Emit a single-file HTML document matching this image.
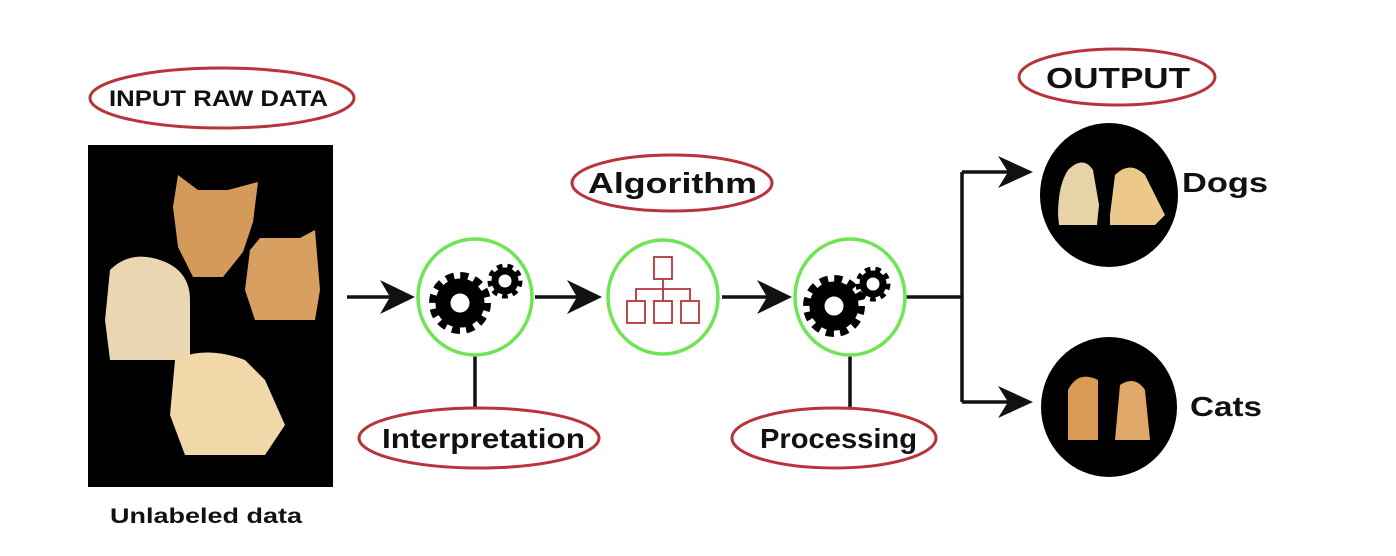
<!DOCTYPE html>
<html><head><meta charset="utf-8"><style>
html,body{margin:0;padding:0;background:#fff;}
svg{display:block}
text{font-family:"Liberation Sans",sans-serif;font-weight:bold;fill:#111}
</style></head><body>
<svg width="1396" height="556" viewBox="0 0 1396 556" xmlns="http://www.w3.org/2000/svg">
<defs>
<g id="gear1">
<circle r="17" fill="none" stroke="#000" stroke-width="15"/>
<circle r="27" fill="none" stroke="#000" stroke-width="8" stroke-dasharray="8 6.14"/>
</g>
<g id="gear2">
<circle r="10" fill="none" stroke="#000" stroke-width="7"/>
<circle r="15" fill="none" stroke="#000" stroke-width="5" stroke-dasharray="5.5 4.92"/>
</g>
</defs>

<ellipse cx="222" cy="98" rx="132" ry="30" fill="none" stroke="#b8343a" stroke-width="3"/>
<text x="109" y="106" font-size="22" textLength="219" lengthAdjust="spacingAndGlyphs">INPUT RAW DATA</text>
<rect x="88" y="145" width="245" height="342" fill="#000"/>
<g fill="#d49a5a">
<path d="M178 175 l20 15 h30 l30 -8 l-5 40 l-10 30 l-20 25 l-30 0 l-15 -30 l-5 -40 z"/>
<path d="M250 250 l10 -12 l40 0 l15 -8 l5 60 l-5 30 h-60 l-10 -30 z" fill="#d8a060"/>
</g>
<path d="M110 270 q20 -20 50 -10 q30 10 30 40 l0 60 h-80 l-5 -40 z" fill="#ead6b0"/>
<path d="M175 360 q30 -15 70 0 l20 20 l20 45 l-20 30 h-80 l-15 -40 z" fill="#f0d8a8"/>
<text x="110" y="523" font-size="21" textLength="192" lengthAdjust="spacingAndGlyphs">Unlabeled data</text>

<g stroke="#111" stroke-width="3.5" fill="none">
<line x1="347" y1="297" x2="400" y2="297"/>
<line x1="535" y1="297" x2="585" y2="297"/>
<line x1="722" y1="297" x2="775" y2="297"/>
<polyline points="906,297 962,297"/>
<line x1="962" y1="172" x2="962" y2="402"/>
<line x1="962" y1="172" x2="1015" y2="172"/>
<line x1="962" y1="402" x2="1015" y2="402"/>
<line x1="475" y1="355" x2="475" y2="407"/>
<line x1="850" y1="355" x2="850" y2="407"/>
</g>
<g fill="#111">
<path d="M380 280 L415 297 L380 314 L390 297 Z"/>
<path d="M567 280 L602 297 L567 314 L577 297 Z"/>
<path d="M757 280 L792 297 L757 314 L767 297 Z"/>
<path d="M998 156 L1033 172 L998 188 L1008 172 Z"/>
<path d="M998 386 L1033 402 L998 418 L1008 402 Z"/>
</g>

<g fill="#fff" stroke="#6fe455" stroke-width="3.5">
<ellipse cx="475" cy="297" rx="57" ry="58"/>
<ellipse cx="663" cy="297" rx="55" ry="57"/>
<ellipse cx="850" cy="297" rx="55" ry="58"/>
</g>
<use href="#gear1" x="460" y="303"/>
<use href="#gear2" x="505" y="281"/>
<use href="#gear1" x="834" y="306"/>
<use href="#gear2" x="873" y="284"/>
<g fill="none" stroke="#b8343a" stroke-width="1.8">
<rect x="654" y="257" width="18" height="22"/>
<rect x="627" y="301" width="18" height="22"/>
<rect x="654" y="301" width="18" height="22"/>
<rect x="681" y="301" width="18" height="22"/>
<polyline points="663,279 663,289"/>
<polyline points="636,301 636,289 690,289 690,301"/>
<line x1="663" y1="289" x2="663" y2="301"/>
</g>

<g fill="none" stroke="#b8343a" stroke-width="3">
<ellipse cx="672" cy="183" rx="100" ry="28"/>
<ellipse cx="479" cy="438" rx="120" ry="30"/>
<ellipse cx="834" cy="438" rx="102" ry="30"/>
<ellipse cx="1117" cy="77" rx="98" ry="28"/>
</g>
<text x="588" y="193" font-size="29" textLength="169" lengthAdjust="spacingAndGlyphs">Algorithm</text>
<text x="382" y="448" font-size="28" textLength="203" lengthAdjust="spacingAndGlyphs">Interpretation</text>
<text x="760" y="448" font-size="28" textLength="157" lengthAdjust="spacingAndGlyphs">Processing</text>
<text x="1046" y="88" font-size="29" textLength="144" lengthAdjust="spacingAndGlyphs">OUTPUT</text>

<ellipse cx="1109" cy="195" rx="69" ry="72" fill="#000"/>
<ellipse cx="1109" cy="407" rx="68" ry="70" fill="#000"/>
<path d="M1058 215 q0 -30 10 -45 q15 -15 25 0 l6 35 l-2 20 h-38 z" fill="#e8d2a8"/>
<path d="M1110 215 l5 -40 q15 -15 30 0 l20 40 l-10 10 h-45 z" fill="#ecc98a"/>
<path d="M1068 440 l0 -50 q10 -20 30 -10 l0 60 z" fill="#d89a55"/>
<path d="M1115 440 l5 -55 q15 -10 25 5 l5 50 z" fill="#e0a868"/>
<text x="1182" y="192" font-size="28" textLength="86" lengthAdjust="spacingAndGlyphs">Dogs</text>
<text x="1190" y="416" font-size="28" textLength="72" lengthAdjust="spacingAndGlyphs">Cats</text>
</svg>
</body></html>
